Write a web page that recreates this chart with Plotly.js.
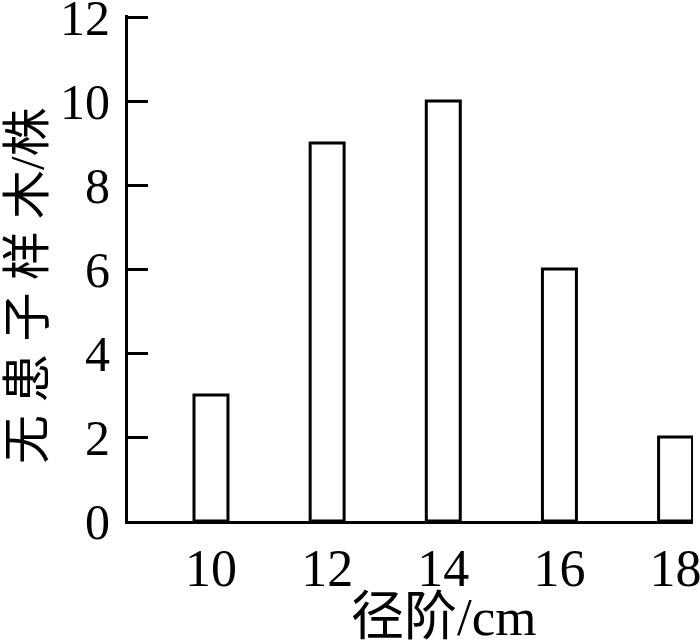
<!DOCTYPE html>
<html><head><meta charset="utf-8">
<script src="https://cdn.plot.ly/plotly-3.0.1.min.js"></script>
<style>body{margin:0;padding:0;background:#fff}</style>
</head><body>
<div id="chart" style="width:700px;height:641px"></div>
<script>
const diameterClasses = [10, 12, 14, 16, 18];
const treeCounts = [3, 9, 10, 6, 2];
const yTicks = [0, 2, 4, 6, 8, 10, 12];
const xTitle = "径阶/cm";
const yTitle = "无 患 子 样 木/株";

const fontFam = "Liberation Serif, 'Times New Roman', 'Noto Sans CJK SC', serif";

const trace = {
  type: 'bar',
  x: diameterClasses,
  y: treeCounts,
  width: 0.585,
  marker: {color: '#ffffff', line: {color: '#000000', width: 3}},
  hoverinfo: 'skip'
};
// invisible helper trace so the tick-only overlay axis is active
const tickTrace = {
  type: 'scatter', x: [diameterClasses[0]], y: [treeCounts[0]], yaxis: 'y2',
  mode: 'markers', marker: {opacity: 0, size: 1}, hoverinfo: 'skip', showlegend: false
};

const layout = {
  width: 700, height: 641,
  margin: {l: 128, r: 7, t: 15, b: 120, pad: 0},
  paper_bgcolor: '#fff', plot_bgcolor: '#fff',
  showlegend: false,
  xaxis: {
    range: [8.571, 18.30],
    tickvals: diameterClasses,
    ticktext: diameterClasses.map(String),
    ticks: '',
    showgrid: false, zeroline: false,
    showline: true, linecolor: '#000', linewidth: 3,
    tickfont: {family: fontFam, size: 52, color: '#000'},
    ticklabeloverflow: 'allow'
  },
  yaxis: {
    range: [0, 12.05],
    tickvals: yTicks,
    ticktext: yTicks.map(String),
    ticks: '',
    showgrid: false, zeroline: false,
    showline: true, linecolor: '#000', linewidth: 3,
    tickfont: {family: fontFam, size: 50, color: '#000'},
    ticklabeloverflow: 'allow',
    ticklabelstandoff: 5
  },
  yaxis2: {
    overlaying: 'y', anchor: 'x', side: 'left',
    range: [0, 12.05],
    tickvals: yTicks,
    ticks: 'inside', ticklen: 20, tickwidth: 3, tickcolor: '#000',
    showticklabels: false,
    showgrid: false, zeroline: false, showline: false
  },
  annotations: [{
    text: xTitle, xref: 'x', yref: 'paper', x: 14, y: 0,
    yanchor: 'middle', xanchor: 'center', yshift: -96, showarrow: false,
    font: {family: fontFam, size: 53, color: '#000'}
  }, {
    text: yTitle, xref: 'paper', yref: 'paper', x: 0, y: 0.4644,
    xanchor: 'center', yanchor: 'middle', xshift: -101, textangle: -90, showarrow: false,
    font: {family: fontFam, size: 49, color: '#000'}
  }]
};

Plotly.newPlot('chart', [trace, tickTrace], layout, {displayModeBar: false, staticPlot: true});
</script>
</body></html>
